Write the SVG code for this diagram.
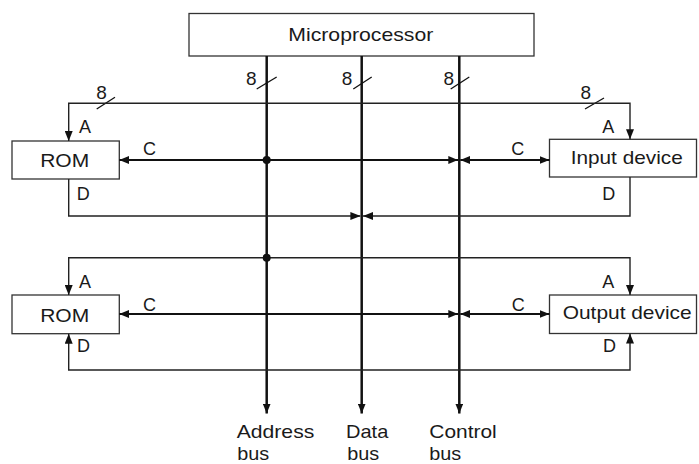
<svg xmlns="http://www.w3.org/2000/svg" width="699" height="464" viewBox="0 0 699 464">
<style>
  text { font-family: "Liberation Sans", Arial, sans-serif; fill: #1a1a1a; }
  .big { font-size: 19px; }
  .lbl { font-size: 18px; }
  .box { fill: #fff; stroke: #333; stroke-width: 1.3; }
  .bus { stroke: #111; stroke-width: 2.5; fill: none; }
  .ctl { stroke: #111; stroke-width: 2; fill: none; }
  .thin { stroke: #222; stroke-width: 1.4; fill: none; }
  .slash { stroke: #111; stroke-width: 1.3; }
</style>
<defs>
  <marker id="ah" markerUnits="userSpaceOnUse" viewBox="0 0 10 8" refX="10" refY="4" markerWidth="10" markerHeight="8" orient="auto-start-reverse">
    <path d="M0,0 L10,4 L0,8 Z" fill="#111"/>
  </marker>
</defs>

<g id="microprocessor">
  <rect class="box" x="189" y="13.5" width="345" height="42.5"/>
  <text class="big" x="360.8" y="41" text-anchor="middle" textLength="145" lengthAdjust="spacingAndGlyphs">Microprocessor</text>
</g>
<g id="rom1">
  <rect class="box" x="12" y="141" width="107.3" height="38"/>
  <text class="big" x="64.7" y="167.3" text-anchor="middle" textLength="49" lengthAdjust="spacingAndGlyphs">ROM</text>
</g>
<g id="input-device">
  <rect class="box" x="549.5" y="139.3" width="147" height="37.7"/>
  <text class="big" x="626.7" y="164.3" text-anchor="middle" textLength="112" lengthAdjust="spacingAndGlyphs">Input device</text>
</g>
<g id="rom2">
  <rect class="box" x="12" y="295" width="107.3" height="38.7"/>
  <text class="big" x="64.7" y="321.7" text-anchor="middle" textLength="49" lengthAdjust="spacingAndGlyphs">ROM</text>
</g>
<g id="output-device">
  <rect class="box" x="549.5" y="295" width="147" height="38.5"/>
  <text class="big" x="627.2" y="319.3" text-anchor="middle" textLength="129" lengthAdjust="spacingAndGlyphs">Output device</text>
</g>

<g id="connectors">
  <line class="bus" x1="266.7" y1="56" x2="266.7" y2="413.5" marker-end="url(#ah)"/>
  <line class="bus" x1="361.7" y1="56" x2="361.7" y2="413.5" marker-end="url(#ah)"/>
  <line class="bus" x1="459.3" y1="56" x2="459.3" y2="413.5" marker-end="url(#ah)"/>
  <line class="slash" x1="256.7" y1="89" x2="276.7" y2="77"/>
  <line class="slash" x1="353.3" y1="89" x2="371.7" y2="77"/>
  <line class="slash" x1="450.7" y1="89" x2="469.3" y2="77"/>
  <line class="slash" x1="96.7" y1="109" x2="115" y2="97.3"/>
  <line class="slash" x1="585" y1="109" x2="604" y2="98"/>
  <path class="thin" d="M68.7,141 V103.3 H630 V139.3" marker-start="url(#ah)" marker-end="url(#ah)"/>
  <line class="ctl" x1="119.3" y1="160" x2="458.3" y2="160" marker-start="url(#ah)" marker-end="url(#ah)"/>
  <line class="ctl" x1="460.3" y1="160" x2="549.5" y2="160" marker-start="url(#ah)" marker-end="url(#ah)"/>
  <circle cx="266.7" cy="160" r="4" fill="#111"/>
  <path class="thin" d="M68.7,179 V216 H360.4" marker-end="url(#ah)"/>
  <path class="thin" d="M630,177 V216 H363" marker-end="url(#ah)"/>
  <path class="thin" d="M68.7,295 V257.7 H630 V295" marker-start="url(#ah)" marker-end="url(#ah)"/>
  <circle cx="266.7" cy="257.7" r="4" fill="#111"/>
  <line class="ctl" x1="119.3" y1="314" x2="458.3" y2="314" marker-start="url(#ah)" marker-end="url(#ah)"/>
  <line class="ctl" x1="460.3" y1="314" x2="549.5" y2="314" marker-start="url(#ah)" marker-end="url(#ah)"/>
  <path class="thin" d="M68.7,333.7 V370 H630 V333.5" marker-start="url(#ah)" marker-end="url(#ah)"/>
</g>

<g id="labels">
  <text class="big" x="251.3" y="85" text-anchor="middle">8</text>
  <text class="big" x="347" y="85" text-anchor="middle">8</text>
  <text class="big" x="448.7" y="85" text-anchor="middle">8</text>
  <text class="big" x="101.5" y="99" text-anchor="middle">8</text>
  <text class="big" x="585.7" y="99" text-anchor="middle">8</text>

  <text class="lbl" x="79" y="133.3">A</text>
  <text class="lbl" x="143" y="155">C</text>
  <text class="lbl" x="76.7" y="200">D</text>
  <text class="lbl" x="602.3" y="133.3">A</text>
  <text class="lbl" x="511.3" y="155">C</text>
  <text class="lbl" x="602.3" y="200">D</text>

  <text class="lbl" x="79" y="288.3">A</text>
  <text class="lbl" x="143" y="310.5">C</text>
  <text class="lbl" x="77" y="351.7">D</text>
  <text class="lbl" x="602.3" y="288.3">A</text>
  <text class="lbl" x="511.7" y="310.5">C</text>
  <text class="lbl" x="603" y="351.7">D</text>

  <text class="big" x="236.7" y="438" textLength="77.6" lengthAdjust="spacingAndGlyphs">Address</text>
  <text class="big" x="237.3" y="460" textLength="32" lengthAdjust="spacingAndGlyphs">bus</text>
  <text class="big" x="346" y="438" textLength="42.3" lengthAdjust="spacingAndGlyphs">Data</text>
  <text class="big" x="347.3" y="460" textLength="32" lengthAdjust="spacingAndGlyphs">bus</text>
  <text class="big" x="429.3" y="438" textLength="67.4" lengthAdjust="spacingAndGlyphs">Control</text>
  <text class="big" x="429.3" y="460" textLength="32" lengthAdjust="spacingAndGlyphs">bus</text>
</g>
</svg>
